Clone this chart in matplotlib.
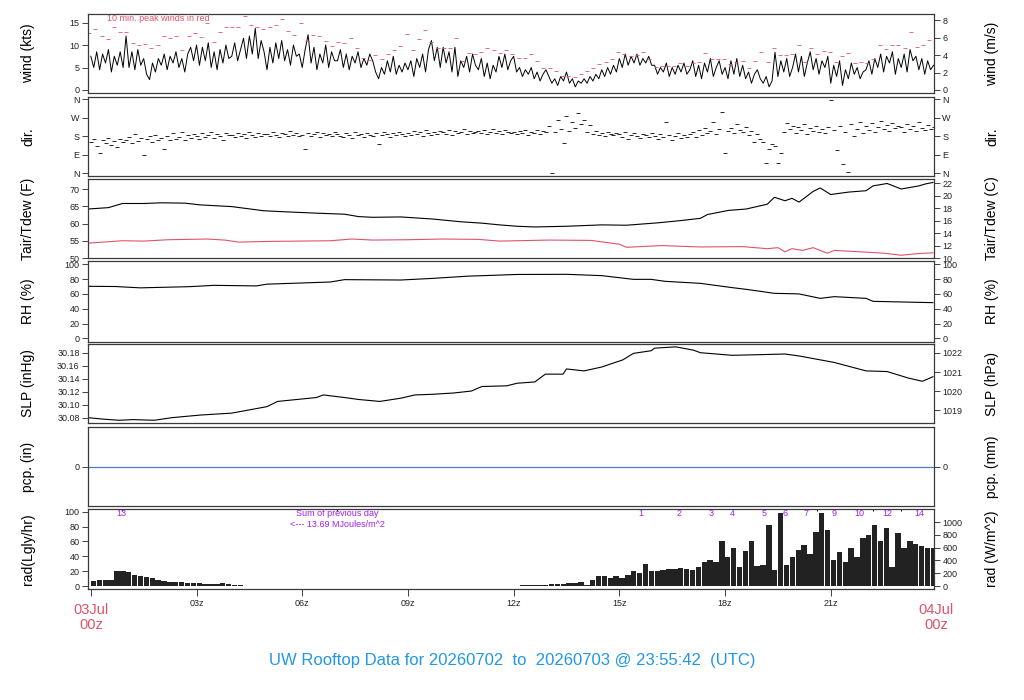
import numpy as np
import matplotlib
matplotlib.use("Agg")
import matplotlib.pyplot as plt

plt.rcParams['font.family'] = ['Liberation Sans', 'DejaVu Sans']

# ---- data (hours UTC from 03Jul 00z) ----
# wind speed (kts), 5-minute steps
wind_kts = [
    7.5, 5.0, 8.5, 4.5, 8.0, 6.0, 9.0, 4.0, 7.5, 5.5, 8.5, 5.0,
    12.0, 5.0, 8.5, 4.5, 9.0, 5.5, 7.0, 3.5, 2.3, 6.0, 4.0, 7.0,
    5.5, 8.0, 4.5, 7.5, 6.0, 8.5, 5.0, 7.0, 4.0, 8.0, 9.5, 6.5,
    10.0, 5.5, 9.5, 6.5, 10.5, 5.0, 8.5, 4.5, 9.0, 6.0, 10.0, 7.0,
    7.5, 10.5, 6.5, 9.0, 11.5, 7.0, 12.0, 8.0, 13.7, 7.0, 11.0, 8.5,
    4.5, 9.5, 6.0, 10.5, 7.0, 11.0, 6.5, 9.0, 5.5, 10.0, 7.5, 8.0,
    5.0, 9.0, 12.3, 6.0, 9.5, 4.5, 8.0, 6.0, 10.0, 5.0, 8.5, 6.5,
    6.5, 9.0, 5.0, 8.0, 4.5, 7.5, 6.0, 8.5, 5.0, 7.0, 5.5, 8.0,
    6.5, 4.0, 2.5, 5.0, 3.5, 6.5, 4.0, 7.5, 3.5, 5.5, 4.0, 6.0,
    4.5, 6.5, 3.0, 7.0, 5.0, 8.0, 4.0, 9.0, 11.0, 6.5, 9.5, 5.0,
    9.5, 6.0, 8.5, 4.0, 9.5, 3.0, 6.5, 5.0, 7.5, 4.0, 8.0, 5.5,
    4.5, 7.0, 3.0, 6.0, 2.5, 5.5, 4.0, 7.5, 5.0, 8.0, 4.5, 6.5,
    7.5, 4.0, 5.0, 3.0, 4.5, 3.5, 5.0, 2.5, 4.0, 2.0, 3.5, 4.5,
    3.0, 1.5, 2.5, 1.0, 3.0, 2.0, 4.0, 1.5, 2.5, 0.7, 2.0, 1.5,
    2.5, 1.5, 3.0, 2.0, 3.5, 2.5, 4.5, 3.0, 5.0, 3.5, 5.5, 4.0,
    7.0, 5.0, 8.0, 5.5, 7.5, 6.0, 8.0, 5.5, 7.0, 6.0, 7.5, 5.5,
    5.5, 3.5, 5.0, 4.0, 6.0, 3.0, 5.0, 3.5, 5.5, 4.0, 6.0, 3.5,
    4.5, 6.5, 3.0, 5.5, 2.5, 6.0, 4.0, 7.0, 3.0, 5.0, 6.5, 3.5,
    5.0, 2.5, 6.5, 3.5, 7.0, 3.0, 5.5, 2.5, 4.0, 1.5, 3.5, 4.5,
    2.5, 1.5, 3.0, 0.7, 2.0, 8.4, 3.0, 6.5, 4.0, 7.0, 3.0, 5.0,
    8.0, 4.0, 7.5, 3.0, 6.0, 8.5, 4.5, 7.0, 3.5, 6.5, 5.0, 7.5,
    1.5, 5.5, 3.0, 6.5, 1.0, 4.5, 2.5, 6.0, 3.5, 5.0, 2.5, 4.0,
    4.5, 6.5, 3.5, 7.0, 5.0, 8.0, 4.0, 7.5, 6.0, 8.5, 3.5, 7.0,
    5.0, 8.0, 4.0, 9.0, 6.5, 7.5, 4.5, 7.0, 3.5, 6.5, 4.5, 5.5,
]
wind_t = np.arange(len(wind_kts)) / 12.0

# 10 min peak winds (kts)
peak_kts = [
    12.6, 13.5, 12.0, 11.3, 14.0, 13.0, 13.0, 10.5, 10.0, 10.2,
    9.3, 10.0, 12.0, 11.5, 12.0, 8.9, 12.0, 12.6, 11.7, 14.8,
    10.6, 12.8, 14.1, 14.0, 14.0, 16.5, 14.5, 14.1, 13.5, 14.0,
    14.5, 15.7, 13.2, 12.2, 15.0, 10.8, 12.2, 12.0, 10.8, 9.7,
    10.6, 10.4, 11.5, 9.3, 7.1, 6.7, 7.8, 6.8, 8.0, 9.0,
    9.7, 12.5, 8.9, 11.3, 13.4, 10.6, 9.3, 9.3, 9.4, 11.5,
    6.5, 8.3, 8.0, 8.5, 9.4, 8.9, 8.3, 8.9, 8.0,
    7.2, 7.2, 8.1, 6.5, 4.8, 4.9, 4.3, 3.2, 3.1, 2.9,
    3.5, 4.3, 5.0, 5.7, 6.2, 7.0, 8.4, 7.9, 7.5, 7.7,
    8.4, 7.0, 5.1, 5.4, 5.4, 5.4, 6.1, 5.4, 6.1, 6.2,
    8.2, 7.0, 7.0, 7.0, 5.7, 6.2, 6.5, 4.8, 6.5, 8.4,
    6.2, 9.3, 7.7, 7.7, 8.1, 10.0, 6.2, 9.3, 7.9, 8.7,
    8.4, 6.2, 7.5, 8.2, 5.9, 6.2, 5.9, 6.8, 9.9, 9.2,
    9.9, 10.0, 9.3, 13.0, 9.5, 10.0, 11.2,
]
peak_t = np.linspace(-0.05, 23.8, len(peak_kts))

# wind direction (deg), 5-minute steps
wind_dir = [
    150, 165, 135, 100, 160, 145, 170, 140, 155, 130, 165, 150,
    160, 175, 145, 190, 155, 170, 90, 165, 180, 150, 185, 160,
    170, 120, 180, 160, 195, 165, 175, 200, 160, 185, 170, 190,
    180, 165, 195, 175, 185, 200, 170, 190, 180, 160, 195, 185,
    185, 175, 195, 180, 190, 170, 200, 185, 175, 195, 180, 190,
    190, 180, 200, 185, 175, 195, 190, 180, 205, 185, 195, 180,
    185, 118, 195, 180, 190, 200, 175, 195, 185, 190, 180, 200,
    190, 180, 175, 195, 185, 170, 200, 185, 190, 175, 195, 185,
    180, 195, 141, 185, 200, 190, 175, 195, 185, 200, 190, 180,
    195, 185, 205, 190, 200, 180, 210, 195, 185, 200, 190, 205,
    200, 190, 210, 185, 205, 195, 200, 215, 190, 205, 195, 200,
    205, 195, 210, 190, 200, 215, 195, 205, 190, 210, 200, 195,
    200, 190, 205, 195, 210, 185, 200, 195, 210, 190, 205, 200,
    230, 3, 200, 260, 215, 145, 280, 205, 250, 220, 295, 240,
    260, 200, 235, 190, 205, 185, 195, 180, 200, 190, 185, 195,
    190, 175, 200, 165, 185, 195, 180, 170, 190, 185, 175, 195,
    180, 165, 190, 175, 248, 185, 160, 180, 195, 170, 185, 175,
    190, 200, 175, 210, 185, 220, 195, 205, 250, 190, 215, 297,
    100, 205, 220, 195, 240, 210, 200, 225, 185, 205, 150, 190,
    165, 154, 50, 120, 142, 135, 50, 100, 200, 247, 215, 230,
    195, 225, 210, 240, 190, 220, 205, 230, 200, 215, 195, 225,
    357, 210, 113, 230, 44, 200, 5, 240, 180, 215, 250, 195,
    230, 210, 245, 200, 225, 255, 215, 235, 205, 245, 220, 230,
    225, 200, 240, 215, 230, 205, 250, 220, 210, 235, 215, 225,
]
dir_t = np.arange(len(wind_dir)) / 12.0

tair_t = [-0.08, 0.5, 0.9, 1.5, 2.0, 2.67, 3.1, 4.0, 4.9, 5.5, 6.4, 7.2, 7.6, 8.0,
          8.8, 9.7, 10.5, 11.1, 11.6, 12.1, 12.6, 13.5, 14.5, 15.2, 16.1, 16.7,
          17.3, 17.5, 18.1, 18.6, 19.2, 19.4, 19.7, 19.9, 20.1, 20.5, 20.7, 21.0,
          21.5, 22.0, 22.2, 22.6, 23.0, 23.5, 23.7, 23.9]
tair_f = [64.2, 64.6, 65.8, 65.8, 66.0, 65.9, 65.4, 64.9, 63.7, 63.4, 63.0, 62.7, 62.0, 61.8,
          61.9, 61.3, 60.5, 60.1, 59.6, 59.2, 59.0, 59.2, 59.6, 59.5, 60.2, 60.8,
          61.5, 62.6, 63.8, 64.2, 65.6, 67.6, 66.6, 67.3, 66.2, 69.3, 70.3, 68.4,
          69.1, 69.5, 70.9, 71.6, 70.0, 70.9, 71.5, 71.9]

tdew_t = [-0.08, 0.9, 1.5, 2.2, 3.3, 3.8, 4.2, 5.0, 6.8, 7.4, 8.0, 9.0, 10.0, 11.0,
          11.6, 13.0, 14.2, 15.0, 15.2, 16.2, 17.3, 18.5, 19.2, 19.5, 19.7, 19.9,
          20.2, 20.5, 20.9, 21.1, 22.0, 22.5, 23.0, 23.5, 23.9]
tdew_f = [54.3, 55.0, 54.9, 55.3, 55.5, 55.2, 54.6, 54.8, 55.0, 55.5, 55.2, 55.3, 55.5, 55.4,
          54.9, 55.2, 55.1, 54.0, 53.1, 53.6, 53.2, 53.3, 52.7, 53.0, 51.8, 52.7,
          52.2, 53.0, 51.4, 52.2, 51.7, 51.4, 50.8, 51.3, 51.5]

rh_t = [-0.08, 0.7, 1.4, 2.8, 3.5, 4.7, 5.0, 6.8, 7.2, 8.8, 9.7, 10.7, 12.1, 13.5,
        14.5, 15.4, 15.9, 16.3, 17.3, 18.2, 18.6, 19.4, 20.1, 20.7, 21.1, 22.0,
        22.2, 23.0, 23.9]
rh_pct = [70.3, 70.0, 68.2, 69.8, 71.6, 70.8, 73.2, 76.1, 79.3, 78.8, 81.0, 84.0, 86.3, 86.5,
          84.7, 79.7, 79.7, 77.0, 74.3, 68.5, 66.2, 60.8, 60.0, 54.0, 56.3, 54.0,
          50.0, 49.1, 48.2]

slp_t = [-0.08, 0.3, 0.8, 1.2, 1.8, 2.3, 3.1, 4.0, 4.5, 5.0, 5.3, 6.4, 6.6, 7.2, 7.6,
         8.2, 8.8, 9.2, 9.7, 10.3, 10.8, 11.1, 11.8, 12.1, 12.6, 12.9, 13.4, 13.5,
         14.0, 14.5, 15.1, 15.4, 15.9, 16.0, 16.6, 17.1, 17.3, 18.2, 19.0, 19.7,
         20.1, 21.1, 22.0, 22.6, 23.2, 23.6, 23.9]
slp_inhg = [30.080, 30.078, 30.076, 30.077, 30.076, 30.080, 30.084, 30.087, 30.092,
            30.097, 30.105, 30.111, 30.115, 30.111, 30.108, 30.105, 30.110, 30.115,
            30.116, 30.118, 30.121, 30.128, 30.129, 30.133, 30.135, 30.147, 30.147,
            30.155, 30.152, 30.158, 30.169, 30.179, 30.183, 30.187, 30.189, 30.184,
            30.180, 30.176, 30.177, 30.178, 30.175, 30.165, 30.152, 30.151, 30.141,
            30.136, 30.143]

pcp_t = [-0.08, 23.93]
pcp_in = [0.0, 0.0]

# solar radiation (W/m^2), 10-minute steps
rad_wm2 = [
    80, 90, 90, 95, 230, 230, 220, 180, 150, 140, 120, 100,
    80, 70, 65, 60, 55, 50, 40, 35, 35, 30, 45, 25,
    15, 10, 8, 8, 5, 0, 0, 0, 0, 0, 0, 0,
    0, 0, 0, 0, 0, 0, 0, 0, 0, 0, 0, 0,
    0, 0, 0, 0, 0, 0, 0, 0, 0, 0, 0, 0,
    0, 0, 0, 0, 0, 0, 0, 0, 0, 0, 0, 5,
    5, 10, 10, 12, 15, 20, 25, 30, 35, 40, 45, 60,
    20, 100, 150, 150, 120, 160, 130, 180, 230, 200, 350, 240,
    230, 250, 260, 270, 280, 260, 250, 290, 370, 400, 380, 700,
    450, 600, 300, 550, 700, 320, 330, 950, 250, 1150, 330, 450,
    570, 640, 500, 850, 1150, 880, 400, 540, 380, 600, 450, 750,
    800, 950, 700, 900, 300, 830, 600, 700, 650, 620, 600, 590,
]
rad_t = np.arange(len(rad_wm2)) / 6.0

sun_labels = ['13', '1', '2', '3', '4', '5', '6', '7', '9', '10', '12', '14']
sun_t = [0.88, 15.6, 16.7, 17.6, 18.2, 19.1, 19.7, 20.3, 21.1, 21.8, 22.6, 23.5]
top_marks_t = [0.88, 7.0, 20.6, 22.2, 23.0]

hour_ticks = [3, 6, 9, 12, 15, 18, 21]
hour_labels = ['03z', '06z', '09z', '12z', '15z', '18z', '21z']

RED = '#DF536B'
BLUE = '#2297E6'
PURPLE = '#A020F0'
FRAME = '#3a3a3a'

W, H = 1024, 700
fig = plt.figure(figsize=(W / 100, H / 100), dpi=100)

panels_px = [(14, 93), (97, 176), (179, 258), (261, 342), (344, 423), (427, 506), (509, 589)]
left_px, right_px = 88, 934
axes = []
for top, bot in panels_px:
    ax = fig.add_axes([left_px / W, 1 - bot / H, (right_px - left_px) / W, (bot - top) / H])
    ax.set_xlim(-0.08, 23.93)
    ax.tick_params(axis='both', direction='out', length=4, width=0.6, labelsize=6.5,
                   colors='#222222', pad=2)
    ax.tick_params(axis='x', bottom=False, labelbottom=False)
    for s in ax.spines.values():
        s.set_color(FRAME)
        s.set_linewidth(0.9)
    axes.append(ax)

ax_w, ax_d, ax_t, ax_rh, ax_p, ax_pcp, ax_r = axes


def right_axis(ax, fwd, inv, ticks, labels=None):
    sec = ax.secondary_yaxis('right', functions=(fwd, inv))
    sec.set_yticks(ticks)
    if labels is not None:
        sec.set_yticklabels(labels)
    sec.tick_params(direction='out', length=4, width=0.6, labelsize=6.5, colors='#222222', pad=2)
    sec.spines['right'].set_visible(False)
    return sec


# wind speed
ax_w.plot(wind_t, wind_kts, color='black', lw=0.7)
ax_w.plot(peak_t, peak_kts, ls='none', marker='_', ms=3, mew=0.6, color=RED)
ax_w.set_ylim(-0.67, 16.9)
ax_w.set_yticks([0, 5, 10, 15])
ax_w.text(0.45, 15.9, '10 min. peak winds in red', color=RED, fontsize=6.5, va='center')
right_axis(ax_w, lambda k: k / 1.94384, lambda m: m * 1.94384, [0, 2, 4, 6, 8])

# direction
ax_d.plot(dir_t, wind_dir, ls='none', marker='_', ms=3, mew=0.6, color='black')
ax_d.set_ylim(-13, 371)
ax_d.set_yticks([0, 90, 180, 270, 360])
ax_d.set_yticklabels(['N', 'E', 'S', 'W', 'N'])
right_axis(ax_d, lambda d: d, lambda d: d, [0, 90, 180, 270, 360], ['N', 'E', 'S', 'W', 'N'])

# temperature / dew point
ax_t.plot(tair_t, tair_f, color='black', lw=0.8)
ax_t.plot(tdew_t, tdew_f, color=RED, lw=0.8)
ax_t.set_ylim(50, 72.9)
ax_t.set_yticks([50, 55, 60, 65, 70])
right_axis(ax_t, lambda f: (f - 32) / 1.8, lambda c: c * 1.8 + 32, [10, 12, 14, 16, 18, 20, 22])

# relative humidity
ax_rh.plot(rh_t, rh_pct, color='black', lw=0.8)
ax_rh.set_ylim(-5, 104.5)
ax_rh.set_yticks([0, 20, 40, 60, 80, 100])
right_axis(ax_rh, lambda v: v, lambda v: v, [0, 20, 40, 60, 80, 100])

# pressure
ax_p.plot(slp_t, slp_inhg, color='black', lw=0.8)
ax_p.set_ylim(30.0718, 30.1934)
ax_p.set_yticks([30.08, 30.10, 30.12, 30.14, 30.16, 30.18])
ax_p.set_yticklabels(['30.08', '30.10', '30.12', '30.14', '30.16', '30.18'])
right_axis(ax_p, lambda p: p * 33.8639, lambda h: h / 33.8639, [1019, 1020, 1021, 1022])

# precipitation
ax_pcp.plot(pcp_t, pcp_in, color='#4A7FC0', lw=0.9)
ax_pcp.set_ylim(-1, 1)
ax_pcp.set_yticks([0])
right_axis(ax_pcp, lambda v: v * 25.4, lambda v: v / 25.4, [0])

# radiation
rad_lgly = np.array(rad_wm2) / 11.63
ax_r.bar(rad_t, rad_lgly, width=0.92 / 6.0, align='edge', color='#222222', linewidth=0)
ax_r.set_ylim(-4, 103.6)
ax_r.set_yticks([0, 20, 40, 60, 80, 100])
ax_r.vlines(top_marks_t, 100.5, 103.6, color='black', lw=0.8)
for lab, t in zip(sun_labels, sun_t):
    ax_r.text(t, 97, lab, color=PURPLE, fontsize=6.5, ha='center', va='center')
ax_r.text(7.0, 97, 'Sum of previous day', color=PURPLE, fontsize=6.5, ha='center', va='center')
ax_r.text(7.0, 83, '<--- 13.69 MJoules/m^2', color=PURPLE, fontsize=6.5, ha='center', va='center')
right_axis(ax_r, lambda v: v * 11.63, lambda v: v / 11.63, [0, 200, 400, 600, 800, 1000])

ax_r.tick_params(axis='x', bottom=True, labelbottom=True, length=5)
ax_r.set_xticks([0] + hour_ticks)
ax_r.set_xticklabels([''] + hour_labels, fontsize=6.5)
for t, lab in [(0, '03Jul\n00z'), (24, '04Jul\n00z')]:
    ax_r.text(t, -0.17, lab, transform=ax_r.get_xaxis_transform(), color=RED, fontsize=10.5,
              ha='center', va='top', linespacing=1.15, clip_on=False)

# side labels
left_labels = ['wind (kts)', 'dir.', 'Tair/Tdew (F)', 'RH (%)', 'SLP (inHg)', 'pcp. (in)', 'rad(Lgly/hr)']
right_labels = ['wind (m/s)', 'dir.', 'Tair/Tdew (C)', 'RH (%)', 'SLP (hPa)', 'pcp. (mm)', 'rad (W/m^2)']
for (top, bot), ll, rl in zip(panels_px, left_labels, right_labels):
    yc = 1 - (top + bot) / 2 / H
    fig.text(28 / W, yc, ll, rotation=90, ha='center', va='center', fontsize=10)
    fig.text(992 / W, yc, rl, rotation=90, ha='center', va='center', fontsize=10)

fig.text(512 / W, 1 - 660 / H, 'UW Rooftop Data for 20260702  to  20260703 @ 23:55:42  (UTC)',
         color=BLUE, fontsize=12, ha='center', va='center')

fig.savefig('out.png', dpi=100)
